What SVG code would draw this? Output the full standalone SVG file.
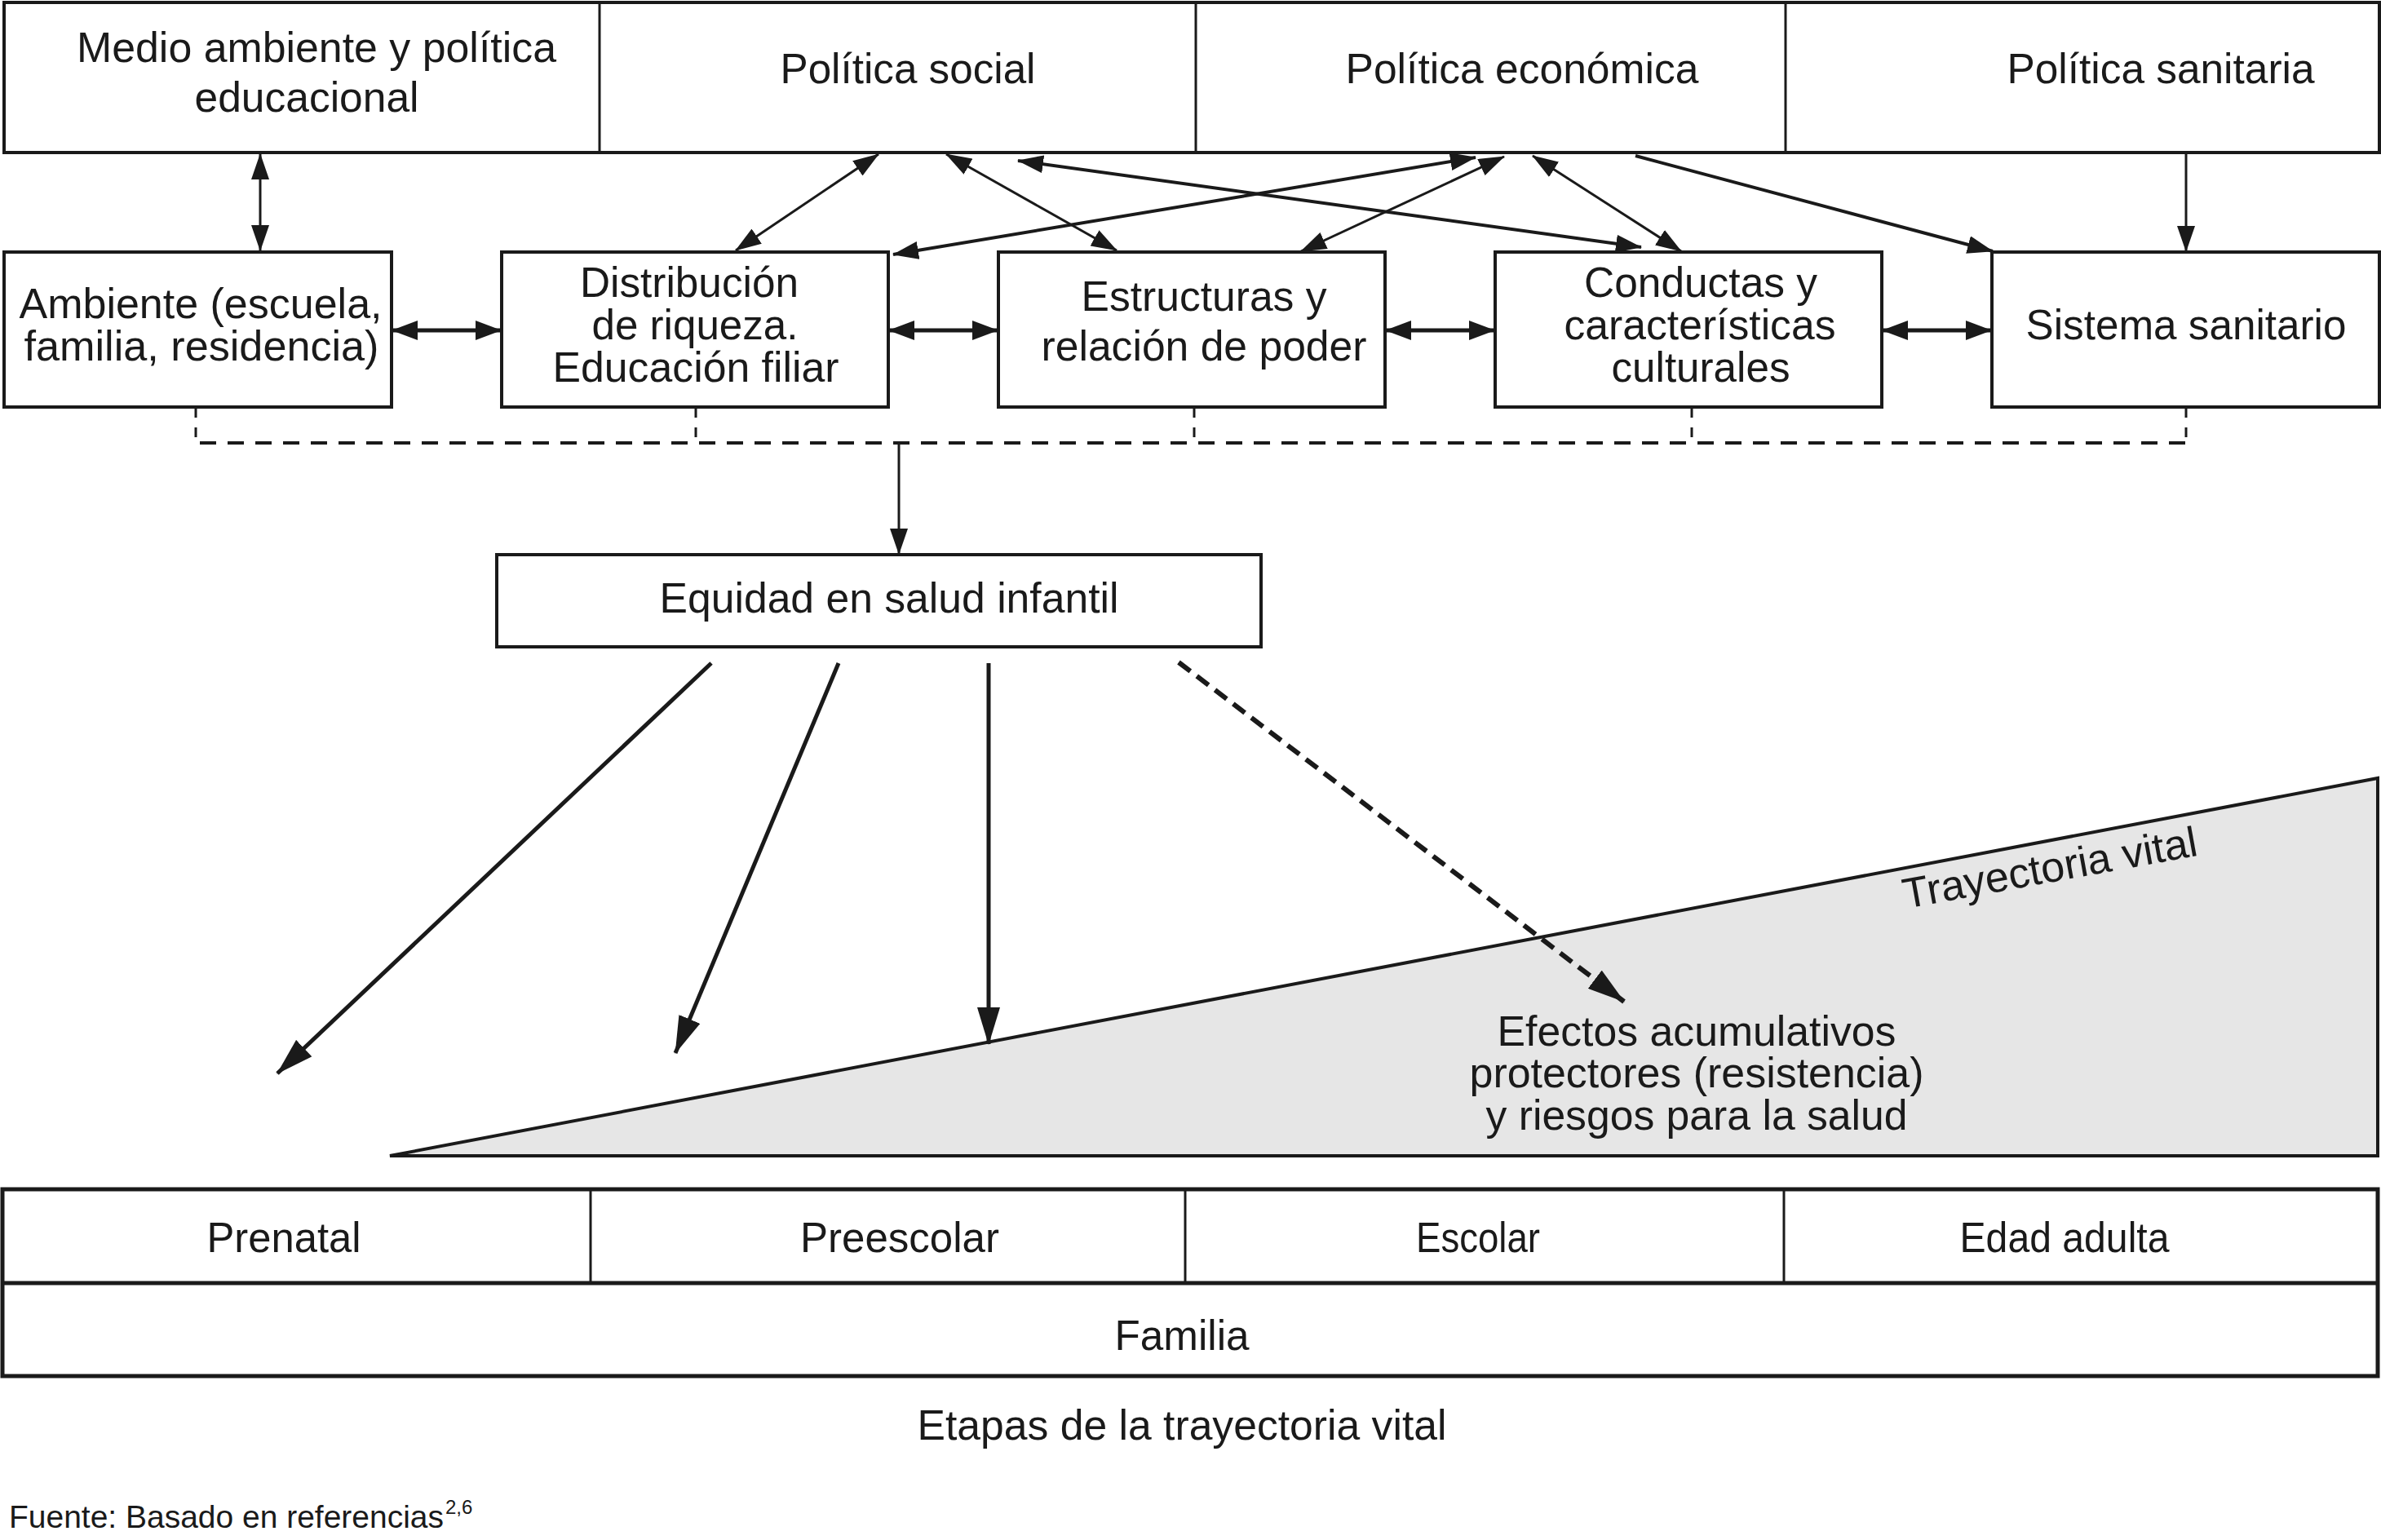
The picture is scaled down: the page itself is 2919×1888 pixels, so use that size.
<svg xmlns="http://www.w3.org/2000/svg" width="2919" height="1888" viewBox="0 0 2919 1888">
<style>
.box{fill:#fff;stroke:#1a1a1a;stroke-width:4}
.div{stroke:#1a1a1a;stroke-width:3;fill:none}
.t{font-family:"Liberation Sans",Arial,sans-serif;font-size:52px;fill:#1a1a1a;text-anchor:middle}
.ts{font-family:"Liberation Sans",Arial,sans-serif;font-size:39px;fill:#1a1a1a}
.c{stroke:#1a1a1a;fill:none}
.thin{stroke-width:3}
.mid{stroke-width:4}
.thick{stroke-width:5}
.dash{stroke-dasharray:20 14}
</style>
<defs>
<marker id="ah" markerUnits="userSpaceOnUse" viewBox="0 0 32 22" markerWidth="32" markerHeight="22" refX="31" refY="11" orient="auto-start-reverse">
<path d="M0,0 L32,11 L0,22 z" fill="#1a1a1a" stroke="none"/>
</marker>
<marker id="ahm" markerUnits="userSpaceOnUse" viewBox="0 0 32 24" markerWidth="32" markerHeight="24" refX="31" refY="12" orient="auto-start-reverse">
<path d="M0,0 L32,12 L0,24 z" fill="#1a1a1a" stroke="none"/>
</marker>
<marker id="ahb" markerUnits="userSpaceOnUse" viewBox="0 0 46 28" markerWidth="46" markerHeight="28" refX="45" refY="14" orient="auto">
<path d="M0,0 L46,14 L0,28 z" fill="#1a1a1a" stroke="none"/>
</marker>
</defs>
<rect width="2919" height="1888" fill="#fff"/>

<g id="top-row">
<rect class="box" x="5" y="3" width="2912" height="184"/>
<line class="div" x1="735" y1="3" x2="735" y2="187"/>
<line class="div" x1="1466" y1="3" x2="1466" y2="187"/>
<line class="div" x1="2189" y1="3" x2="2189" y2="187"/>
</g>
<g id="medio-ambiente">
<text class="t" x="388" y="76" textLength="588" lengthAdjust="spacingAndGlyphs">Medio ambiente y política</text>
<text class="t" x="376" y="137" textLength="275" lengthAdjust="spacingAndGlyphs">educacional</text>
</g>
<g id="politica-social">
<text class="t" x="1113" y="102" textLength="313" lengthAdjust="spacingAndGlyphs">Política social</text>
</g>
<g id="politica-economica">
<text class="t" x="1866" y="102" textLength="433" lengthAdjust="spacingAndGlyphs">Política económica</text>
</g>
<g id="politica-sanitaria">
<text class="t" x="2649" y="102" textLength="377" lengthAdjust="spacingAndGlyphs">Política sanitaria</text>
</g>

<g id="ambiente">
<rect class="box" x="5" y="309" width="475" height="190"/>
<text class="t" x="246" y="390" textLength="445" lengthAdjust="spacingAndGlyphs">Ambiente (escuela,</text>
<text class="t" x="247" y="442" textLength="435" lengthAdjust="spacingAndGlyphs">familia, residencia)</text>
</g>
<g id="distribucion">
<rect class="box" x="615" y="309" width="474" height="190"/>
<text class="t" x="845" y="364" textLength="268" lengthAdjust="spacingAndGlyphs">Distribución</text>
<text class="t" x="852" y="416" textLength="253" lengthAdjust="spacingAndGlyphs">de riqueza.</text>
<text class="t" x="853" y="468" textLength="351" lengthAdjust="spacingAndGlyphs">Educación filiar</text>
</g>
<g id="estructuras">
<rect class="box" x="1224" y="309" width="474" height="190"/>
<text class="t" x="1476" y="381" textLength="301" lengthAdjust="spacingAndGlyphs">Estructuras y</text>
<text class="t" x="1476" y="442" textLength="399" lengthAdjust="spacingAndGlyphs">relación de poder</text>
</g>
<g id="conductas">
<rect class="box" x="1833" y="309" width="474" height="190"/>
<text class="t" x="2085" y="364" textLength="286" lengthAdjust="spacingAndGlyphs">Conductas y</text>
<text class="t" x="2084" y="416" textLength="333" lengthAdjust="spacingAndGlyphs">características</text>
<text class="t" x="2085" y="468" textLength="219" lengthAdjust="spacingAndGlyphs">culturales</text>
</g>
<g id="sistema-sanitario">
<rect class="box" x="2442" y="309" width="475" height="190"/>
<text class="t" x="2680" y="416" textLength="393" lengthAdjust="spacingAndGlyphs">Sistema sanitario</text>
</g>

<g id="equidad">
<rect class="box" x="609" y="680" width="937" height="113"/>
<text class="t" x="1090" y="751" textLength="563" lengthAdjust="spacingAndGlyphs">Equidad en salud infantil</text>
</g>

<g id="trayectoria">
<polygon points="478,1417 2915,954 2915,1417" fill="#e6e6e6" stroke="#1a1a1a" stroke-width="4" stroke-linejoin="miter"/>
<text class="t" style="text-anchor:start" transform="translate(2336,1114) rotate(-10.3)" textLength="366" lengthAdjust="spacingAndGlyphs">Trayectoria vital</text>
<text class="t" x="2080" y="1282" textLength="489" lengthAdjust="spacingAndGlyphs">Efectos acumulativos</text>
<text class="t" x="2080" y="1333" textLength="557" lengthAdjust="spacingAndGlyphs">protectores (resistencia)</text>
<text class="t" x="2080" y="1385" textLength="517" lengthAdjust="spacingAndGlyphs">y riesgos para la salud</text>
</g>

<g id="etapas">
<rect x="3" y="1458" width="2912" height="229" fill="#fff" stroke="#1a1a1a" stroke-width="5"/>
<line x1="3" y1="1573" x2="2915" y2="1573" stroke="#1a1a1a" stroke-width="5"/>
<line class="div" x1="724" y1="1458" x2="724" y2="1573"/>
<line class="div" x1="1453" y1="1458" x2="1453" y2="1573"/>
<line class="div" x1="2187" y1="1458" x2="2187" y2="1573"/>
<text class="t" x="348" y="1535" textLength="189" lengthAdjust="spacingAndGlyphs">Prenatal</text>
<text class="t" x="1103" y="1535" textLength="244" lengthAdjust="spacingAndGlyphs">Preescolar</text>
<text class="t" x="1812" y="1535" textLength="152" lengthAdjust="spacingAndGlyphs">Escolar</text>
<text class="t" x="2531" y="1535" textLength="257" lengthAdjust="spacingAndGlyphs">Edad adulta</text>
<text class="t" x="1449" y="1655" textLength="165" lengthAdjust="spacingAndGlyphs">Familia</text>
</g>
<g id="caption">
<text class="t" x="1449" y="1765" textLength="649" lengthAdjust="spacingAndGlyphs">Etapas de la trayectoria vital</text>
<text class="ts" x="11" y="1873" textLength="533" lengthAdjust="spacingAndGlyphs">Fuente: Basado en referencias</text>
<text class="ts" x="546" y="1856" style="font-size:24px">2,6</text>
</g>

<g id="connectors">
<line class="c thin" x1="319" y1="189" x2="319" y2="307" marker-start="url(#ah)" marker-end="url(#ah)"/>
<line class="c thick" x1="481" y1="405" x2="614" y2="405" marker-start="url(#ahm)" marker-end="url(#ahm)"/>
<line class="c thick" x1="1090" y1="405" x2="1223" y2="405" marker-start="url(#ahm)" marker-end="url(#ahm)"/>
<line class="c thick" x1="1699" y1="405" x2="1832" y2="405" marker-start="url(#ahm)" marker-end="url(#ahm)"/>
<line class="c thick" x1="2308" y1="405" x2="2441" y2="405" marker-start="url(#ahm)" marker-end="url(#ahm)"/>
<line class="c thin" x1="1077" y1="189" x2="902" y2="307" marker-start="url(#ah)" marker-end="url(#ah)"/>
<line class="c thin" x1="1160" y1="189" x2="1369" y2="307" marker-start="url(#ah)" marker-end="url(#ah)"/>
<line class="c mid" x1="1809" y1="193" x2="1095" y2="312" marker-start="url(#ah)" marker-end="url(#ah)"/>
<line class="c mid" x1="1248" y1="197" x2="2012" y2="303" marker-start="url(#ah)" marker-end="url(#ah)"/>
<line class="c thin" x1="1844" y1="192" x2="1595" y2="308" marker-start="url(#ah)" marker-end="url(#ah)"/>
<line class="c thin" x1="1879" y1="191" x2="2061" y2="308" marker-start="url(#ah)" marker-end="url(#ah)"/>
<line class="c mid" x1="2005" y1="191" x2="2443" y2="308" marker-end="url(#ah)"/>
<line class="c thin" x1="2680" y1="187" x2="2680" y2="308" marker-end="url(#ah)"/>
<g stroke="#1a1a1a" stroke-width="3" stroke-dasharray="12 12">
<line x1="240" y1="500" x2="240" y2="543"/>
<line x1="853" y1="500" x2="853" y2="543"/>
<line x1="1464" y1="500" x2="1464" y2="543"/>
<line x1="2074" y1="500" x2="2074" y2="543"/>
<line x1="2680" y1="500" x2="2680" y2="543"/>
</g>
<line class="c mid dash" x1="245" y1="543" x2="2680" y2="543"/>
<line class="c thin" x1="1102" y1="543" x2="1102" y2="679" marker-end="url(#ah)"/>
<line class="c thick" x1="872" y1="813" x2="340" y2="1316" marker-end="url(#ahb)"/>
<line class="c thick" x1="1028" y1="813" x2="828" y2="1291" marker-end="url(#ahb)"/>
<line class="c thick" x1="1212" y1="813" x2="1212" y2="1280" marker-end="url(#ahb)"/>
<line class="c" stroke-width="6" stroke-dasharray="18 10" x1="1445" y1="812" x2="1991" y2="1228" marker-end="url(#ahb)"/>
</g>
</svg>
